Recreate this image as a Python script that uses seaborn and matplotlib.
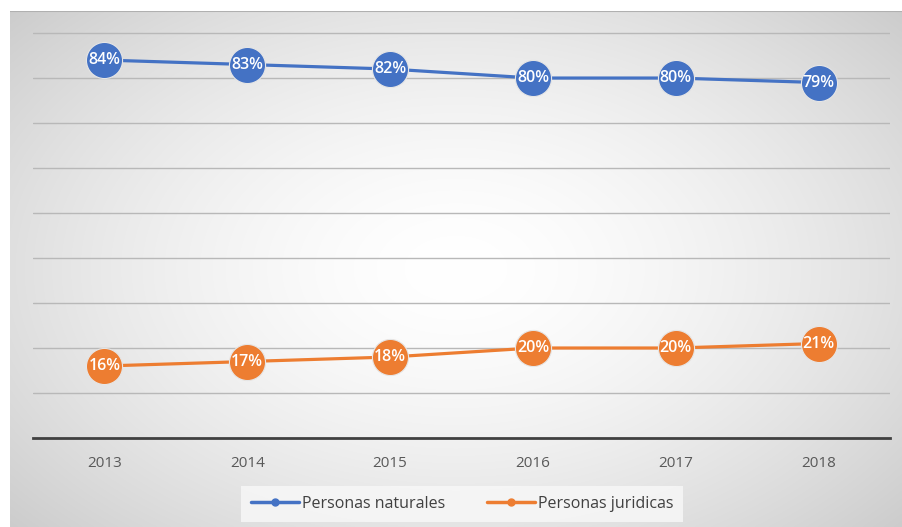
import numpy as np
import pandas as pd
import matplotlib
matplotlib.use("Agg")
import matplotlib.pyplot as plt
from matplotlib.lines import Line2D
import seaborn as sns

# ── data ────────────────────────────────────────────────────────────
years = ["2013", "2014", "2015", "2016", "2017", "2018"]
naturales = [84, 83, 82, 80, 80, 79]
juridicas = [16, 17, 18, 20, 20, 21]
series_names = ["Personas naturales", "Personas juridicas"]

BLUE = "#4472C4"
ORANGE = "#ED7D31"

sns.set_theme(style="white")
plt.rcParams["font.family"] = ["Open Sans", "DejaVu Sans"]

W, H = 902, 527
fig = plt.figure(figsize=(W / 100, H / 100), dpi=100)

# ── radial gradient background ──────────────────────────────────────
bg = fig.add_axes([10 / W, 0, 1 - 10 / W, (H - 11) / H])
yy, xx = np.mgrid[-1:1:300j, -1:1:500j]
r = np.sqrt(xx ** 2 + (yy * 0.9) ** 2)
shade = 1.0 - 0.2 * np.clip(r / 1.35, 0, 1) ** 1.6
bg.imshow(np.dstack([shade] * 3), aspect="auto", extent=[0, 1, 0, 1],
          interpolation="bilinear")
bg.axhline(1, color="#b0b0b0", lw=1.5)
bg.set_axis_off()

# ── main axes ───────────────────────────────────────────────────────
ax = fig.add_axes([33 / W, (H - 438) / H, (890 - 33) / W, (438 - 11) / H])
ax.patch.set_alpha(0)

df = pd.DataFrame({
    "year": years * 2,
    "value": naturales + juridicas,
    "serie": [series_names[0]] * len(years) + [series_names[1]] * len(years),
})
df["x"] = list(range(len(years))) * 2

sns.lineplot(data=df, x="x", y="value", hue="serie",
             palette=[BLUE, ORANGE], marker="o", markersize=26,
             markeredgecolor="#e6e6e6", markeredgewidth=0.8,
             linewidth=2.3, legend=False, ax=ax, zorder=3)

for vals in (naturales, juridicas):
    for i, v in enumerate(vals):
        ax.text(i, v, f"{v}%", ha="center", va="center", color="white",
                fontsize=11.5, fontweight="semibold", zorder=5)

ax.set_xlim(-0.5, len(years) - 0.5)
ax.set_ylim(0, 94.9)
ax.set_yticks(range(10, 100, 10))
ax.yaxis.grid(True, color="#b8b8b8", linewidth=1.0)
ax.set_axisbelow(True)
ax.set_yticklabels([])
ax.tick_params(axis="y", length=0)
ax.set_xticks(range(len(years)))
ax.set_xticklabels(years, color="#595959", fontsize=11)
ax.tick_params(axis="x", length=0, pad=13)
ax.set_xlabel("")
ax.set_ylabel("")
for side in ("top", "right", "left"):
    ax.spines[side].set_visible(False)
ax.spines["bottom"].set_color("#404040")
ax.spines["bottom"].set_linewidth(2.0)

# ── legend ──────────────────────────────────────────────────────────
handles = [
    Line2D([0], [0], color=BLUE, lw=2.5, marker="o", markersize=5),
    Line2D([0], [0], color=ORANGE, lw=2.5, marker="o", markersize=5),
]
leg = fig.legend(handles, series_names, loc="center", ncol=2,
                 bbox_to_anchor=(462 / W, (H - 504) / H), frameon=True,
                 fontsize=11.5, handlelength=3.0, handletextpad=0.2,
                 columnspacing=2.6, borderpad=0.6)
leg.get_frame().set_facecolor("#f7f7f7")
leg.get_frame().set_alpha(0.85)
leg.get_frame().set_edgecolor("none")
leg.get_frame().set_boxstyle("square", pad=0)
for t in leg.get_texts():
    t.set_color("#404040")

fig.savefig("out.png", dpi=100)
